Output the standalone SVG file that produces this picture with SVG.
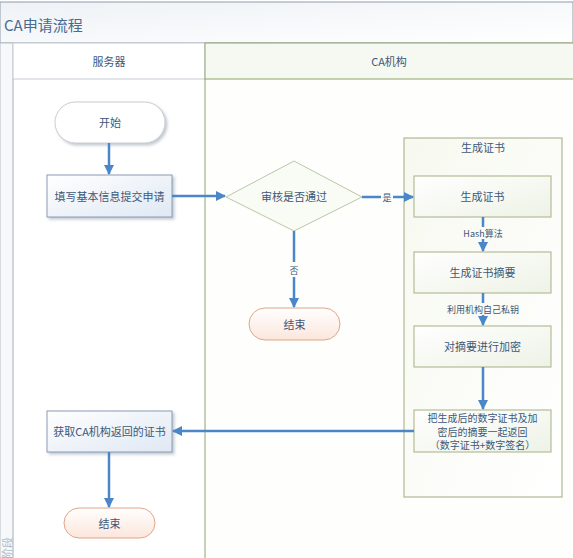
<svg xmlns="http://www.w3.org/2000/svg" width="573" height="558" viewBox="0 0 573 558">
<defs>
<linearGradient id="gTitle" x1="0" y1="0" x2="1" y2="1"><stop offset="0" stop-color="#eef2f6"/><stop offset="1" stop-color="#ffffff"/></linearGradient>
<linearGradient id="gBlue" x1="0" y1="0" x2="1" y2="1"><stop offset="0" stop-color="#ffffff"/><stop offset="1" stop-color="#dfe8f4"/></linearGradient>
<linearGradient id="gPink" x1="0" y1="0" x2="0" y2="1"><stop offset="0" stop-color="#ffffff"/><stop offset="1" stop-color="#fbe6dc"/></linearGradient>
<linearGradient id="gGreen" x1="0" y1="0" x2="1" y2="1"><stop offset="0" stop-color="#f7f9f0"/><stop offset="1" stop-color="#ffffff"/></linearGradient>
<linearGradient id="gBox" x1="0" y1="0" x2="1" y2="1"><stop offset="0" stop-color="#ffffff"/><stop offset="1" stop-color="#eef2e6"/></linearGradient>
<filter id="sh" x="-10%" y="-10%" width="130%" height="140%"><feDropShadow dx="2" dy="2" stdDeviation="1.5" flood-color="#9aa4b0" flood-opacity="0.6"/></filter>
<marker id="arr" viewBox="0 0 10 10" refX="9" refY="5" markerWidth="4" markerHeight="4" orient="auto"><path d="M0,0 L10,5 L0,10 z" fill="#4a86c8"/></marker>
</defs>
<style>
text{font-family:"Noto Sans CJK SC","Liberation Sans",sans-serif;fill:#3d5878;}
.t{font-size:11px;text-anchor:middle;dominant-baseline:central;}
.s{font-size:10px;text-anchor:middle;dominant-baseline:central;}
.lbl{font-size:9px;text-anchor:middle;dominant-baseline:central;}
.c{stroke:#4a86c8;stroke-width:2.5;fill:none;marker-end:url(#arr);}
.blue{fill:url(#gBlue);stroke:#8a9cb4;stroke-width:1;filter:url(#sh);}
.pink{fill:url(#gPink);stroke:#e0a488;stroke-width:1;}
.gbox{fill:url(#gBox);stroke:#b4bc98;stroke-width:1.2;}
</style>
<rect width="573" height="558" fill="#ffffff"/>
<g id="pool">
<rect x="0" y="2" width="573" height="41" fill="url(#gTitle)" stroke="#8e9cab" stroke-width="1"/>
<text x="4" y="24" style="font-size:15px;dominant-baseline:central;fill:#4a6a90">CA申请流程</text>
<rect x="0" y="43" width="13" height="515" fill="#f6f8fa" stroke="#b8c0c8" stroke-width="1"/>
<text transform="translate(7,548) rotate(-90)" style="font-size:11px;text-anchor:middle;dominant-baseline:central;fill:#b0b8c4">阶段</text>
</g>
<g id="lane-server">
<rect x="13" y="43" width="192" height="36" fill="#ffffff" stroke="#c4ccd4" stroke-width="1"/>
<line x1="13" y1="79" x2="13" y2="558" stroke="#c4ccd4"/>
<text class="t" x="109" y="61">服务器</text>
</g>
<g id="lane-ca">
<rect x="205" y="43" width="370" height="36" fill="#f6f9f2" stroke="#8ea46a" stroke-width="1"/>
<line x1="205" y1="79" x2="205" y2="558" stroke="#8ea46a" stroke-width="1"/>
<rect x="206" y="80" width="367" height="478" fill="#fefffd"/>
<text class="t" x="389" y="61">CA机构</text>
</g>
<g id="container">
<rect x="404" y="138" width="158" height="359" fill="url(#gGreen)" stroke="#b0b894" stroke-width="1.2"/>
<text class="t" x="483" y="147">生成证书</text>
</g>
<g id="start">
<rect x="55" y="102" width="110" height="41" rx="20.5" fill="#ffffff" stroke="#c8ccd2" filter="url(#sh)"/>
<text class="t" x="110" y="122">开始</text>
</g>
<g id="fill">
<rect class="blue" x="47" y="175" width="125" height="42"/>
<text class="t" x="109.5" y="196">填写基本信息提交申请</text>
</g>
<g id="review">
<polygon points="226,197 294,161 362,197 294,231" fill="#f9fbf5" stroke="#bcc6a4" stroke-width="1"/>
<text class="t" x="294" y="196">审核是否通过</text>
</g>
<g id="end1">
<rect class="pink" x="249" y="308" width="91" height="32" rx="16"/>
<text class="t" x="294.5" y="324">结束</text>
</g>
<g id="gen">
<rect class="gbox" x="414" y="176" width="137" height="41"/>
<text class="t" x="482.5" y="196">生成证书</text>
</g>
<g id="digest">
<rect class="gbox" x="414" y="252" width="137" height="41"/>
<text class="t" x="482.5" y="272">生成证书摘要</text>
</g>
<g id="encrypt">
<rect class="gbox" x="414" y="326" width="137" height="41"/>
<text class="t" x="482.5" y="346">对摘要进行加密</text>
</g>
<g id="return">
<rect class="gbox" x="414" y="410" width="137" height="42"/>
<text class="s" x="482.5" y="417.5">把生成后的数字证书及加</text>
<text class="s" x="482.5" y="431">密后的摘要一起返回</text>
<text class="s" x="482.5" y="444.5">（数字证书+数字签名）</text>
</g>
<g id="get">
<rect class="blue" x="47" y="411" width="125" height="41"/>
<text class="t" x="109.5" y="431">获取CA机构返回的证书</text>
</g>
<g id="end2">
<rect class="pink" x="64" y="508" width="91" height="30" rx="15"/>
<text class="t" x="109.5" y="523">结束</text>
</g>
<g id="connectors">
<path class="c" d="M109,143 V174"/>
<path class="c" d="M172,196 H225"/>
<path class="c" d="M362,197 H413"/>
<rect x="381" y="190" width="12" height="14" fill="#fefffd"/>
<text class="lbl" x="387" y="197">是</text>
<path class="c" d="M294,231 V307"/>
<rect x="287" y="262" width="14" height="15" fill="#fefffd"/>
<text class="lbl" x="294" y="270">否</text>
<path class="c" d="M483,217 V251"/>
<rect x="462" y="227" width="42" height="12" fill="#f9fbf4"/>
<text class="lbl" x="483" y="233">Hash算法</text>
<path class="c" d="M483,293 V325"/>
<rect x="446" y="303" width="74" height="12" fill="#f9fbf4"/>
<text class="lbl" x="483" y="309">利用机构自己私钥</text>
<path class="c" d="M483,367 V409"/>
<path class="c" d="M414,431 H173"/>
<path class="c" d="M109,452 V507"/>
</g>
</svg>
